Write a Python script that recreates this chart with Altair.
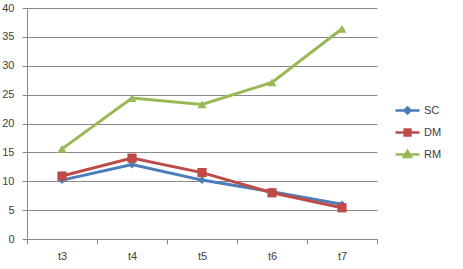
import altair as alt
import pandas as pd

categories = ["t3", "t4", "t5", "t6", "t7"]
series_names = ["SC", "DM", "RM"]
sc_values = [10.2, 12.9, 10.2, 8.2, 6.0]
dm_values = [10.9, 14.0, 11.5, 8.0, 5.4]
rm_values = [15.6, 24.4, 23.3, 27.1, 36.4]
y_ticks = [0, 5, 10, 15, 20, 25, 30, 35, 40]

colors = ["#4A7EBB", "#BE4B48", "#98B954"]
marker_shapes = ["diamond", "square", "triangle-up"]
marker_sizes = [60, 85, 80]
legend_shapes = [
    "M-1,0H1M0,-0.25L0.25,0L0,0.25L-0.25,0Z",
    "M-1,0H1M-0.24,-0.24H0.24V0.24H-0.24Z",
    "M-1,0H1M0,-0.3L0.3,0.2L-0.3,0.2Z",
]

rows = []
for name, vals in zip(series_names, [sc_values, dm_values, rm_values]):
    for c, v in zip(categories, vals):
        rows.append({"t": c, "value": v, "series": name})
df = pd.DataFrame(rows)

FONT = "Liberation Sans"
GRID = "#8a8a8a"
LABEL = "#404040"

x_enc = alt.X(
    "t:N",
    sort=categories,
    bandPosition=0.5,
    scale=alt.Scale(type="band", domain=categories, paddingInner=0, paddingOuter=0),
    axis=alt.Axis(
        title=None, labelAngle=0, tickBand="extent", grid=False,
        domainColor=GRID, tickColor=GRID, tickSize=5, labelPadding=6,
        labelFont=FONT, labelFontSize=11, labelColor=LABEL,
    ),
)
y_enc = alt.Y(
    "value:Q",
    scale=alt.Scale(domain=[0, 40], nice=False, zero=True),
    axis=alt.Axis(
        title=None, values=y_ticks, grid=True, gridColor=GRID, gridWidth=1,
        domainColor=GRID, tickColor=GRID, tickSize=5, labelPadding=8,
        labelFont=FONT, labelFontSize=11, labelColor=LABEL,
    ),
)

series_layers = []
for name, col in zip(series_names, colors):
    base = alt.Chart(df).transform_filter(alt.datum.series == name)
    series_layers.append(
        base.mark_line(strokeWidth=3, color=col).encode(x=x_enc, y=y_enc)
    )
for name, col, shp, sz in zip(series_names, colors, marker_shapes, marker_sizes):
    base = alt.Chart(df).transform_filter(alt.datum.series == name)
    series_layers.append(
        base.mark_point(filled=True, size=sz, opacity=1, shape=shp, color=col)
        .encode(x=x_enc, y=y_enc)
    )

leg = alt.Legend(
    title=None, orient="none", legendX=367, legendY=89, padding=0,
    symbolSize=576, symbolStrokeWidth=2.5, symbolOpacity=1,
    labelFont=FONT, labelFontSize=11, labelColor=LABEL, labelOffset=3,
    rowPadding=0,
)

legend_layer = alt.Chart(df).mark_point(filled=False, opacity=0, size=1).encode(
    x=x_enc, y=y_enc,
    stroke=alt.Stroke("series:N", scale=alt.Scale(domain=series_names, range=colors), legend=leg),
    fill=alt.Fill("series:N", scale=alt.Scale(domain=series_names, range=colors), legend=leg),
    shape=alt.Shape("series:N", scale=alt.Scale(domain=series_names, range=legend_shapes), legend=leg),
)

chart = (
    alt.layer(*series_layers, legend_layer)
    .properties(
        width=350, height=231,
        autosize=alt.AutoSizeParams(type="none"),
        padding={"left": 27, "top": 8, "right": 86, "bottom": 30},
        background="white",
    )
    .configure_view(stroke=None)
)

chart.save("out.html", embed_options={"renderer": "svg", "actions": False})
